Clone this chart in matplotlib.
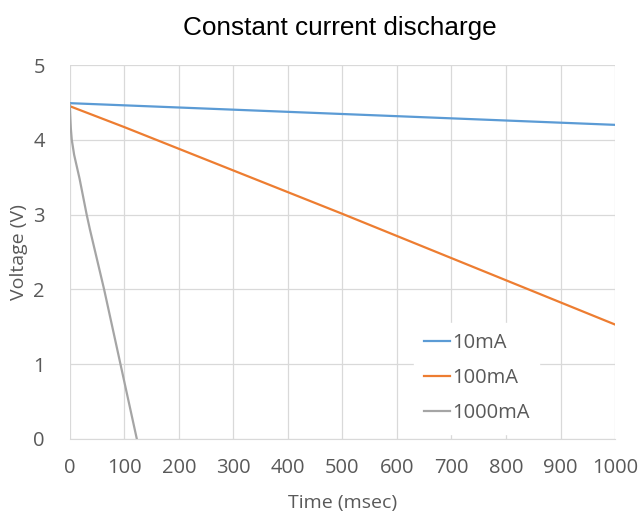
import matplotlib
matplotlib.use('Agg')
import matplotlib.pyplot as plt

t_10 = [0, 1000]
v_10 = [4.49, 4.20]
t_100 = [0, 100, 500, 1000]
v_100 = [4.45, 4.17, 3.01, 1.53]
t_1000 = [0, 1, 2, 3.7, 8, 18, 31, 37, 63, 93, 123]
v_1000 = [4.48, 4.3, 4.15, 4.0, 3.8, 3.48, 3.0, 2.8, 2.0, 1.0, 0.0]

labels = ['10mA', '100mA', '1000mA']
colors = ['#5b9bd5', '#ed7d31', '#a5a5a5']
gray = '#595959'
font = 'Open Sans'

fig = plt.figure(figsize=(6.4, 5.14), dpi=100)
ax = fig.add_axes([0.109, 0.146, 0.852, 0.7275])

ax.plot(t_10, v_10, color=colors[0], lw=1.6, label=labels[0])
ax.plot(t_100, v_100, color=colors[1], lw=1.6, label=labels[1])
ax.plot(t_1000, v_1000, color=colors[2], lw=1.6, label=labels[2])

ax.set_xlim(0, 1000)
ax.set_ylim(0, 5)
ax.set_xticks(range(0, 1001, 100))
ax.set_yticks(range(0, 6))
ax.grid(True, color='#d9d9d9', lw=0.9)
ax.set_axisbelow(True)
for s in ['top', 'right', 'left']:
    ax.spines[s].set_visible(False)
ax.spines['bottom'].set_color('#d9d9d9')
ax.tick_params(length=0, labelsize=14.5, colors=gray)
ax.tick_params(axis='x', pad=14)
ax.tick_params(axis='y', pad=18)
for lab in ax.get_xticklabels() + ax.get_yticklabels():
    lab.set_family(font)

ax.set_xlabel('Time (msec)', fontsize=14, color=gray, family=font, labelpad=11)
ax.set_ylabel('Voltage (V)', fontsize=14, color=gray, family=font, labelpad=4)
fig.text(0.531, 0.946, 'Constant current discharge', ha='center', va='center',
         fontsize=18.8, family='Liberation Sans', color='black')

leg = ax.legend(loc='center', bbox_to_anchor=(0.746, 0.162), frameon=True,
                facecolor='white', edgecolor='white', framealpha=1, fancybox=False,
                prop={'family': font, 'size': 14.5}, handlelength=1.3,
                handletextpad=0.1, labelspacing=0.75, labelcolor=gray,
                borderpad=0.5)

fig.savefig('out.png', dpi=100)
